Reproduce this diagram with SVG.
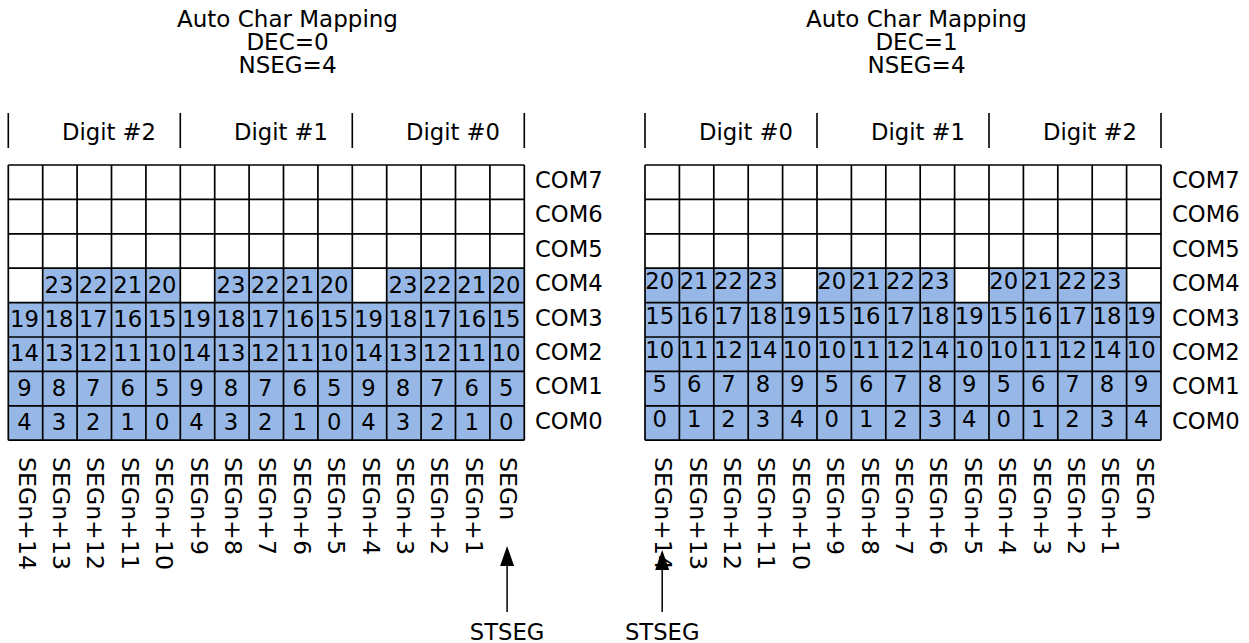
<svg xmlns="http://www.w3.org/2000/svg" width="1249" height="643" viewBox="0 0 1249 643">
<defs>
<style>
text{font-family:"DejaVu Sans","Liberation Sans",sans-serif;font-size:22.7px;fill:#000}
.c{text-anchor:middle}
.t{font-size:23px}
.v{font-size:23.6px}
.blue{fill:#97b8e6;stroke:none}
.grid{fill:none;stroke:#000;stroke-width:1.7}
.sep{stroke:#000;stroke-width:1.6}
.conn{stroke:#000;stroke-width:1.5;fill:none;marker-end:url(#ah)}
</style>
<marker id="ah" viewBox="0 0 20 14" refX="0" refY="7" markerWidth="20" markerHeight="14" markerUnits="userSpaceOnUse" orient="auto"><path d="M0,0 L20,7 L0,14 Z" fill="#000"/></marker>
</defs>
<rect width="1249" height="643" fill="#fff"/>

<g id="title-left">
<text x="287.5" y="27" class="c t">Auto Char Mapping</text>
<text x="287.5" y="50" class="c t">DEC=0</text>
<text x="287.5" y="73" class="c t">NSEG=4</text>
</g>
<g id="title-right">
<text x="916.5" y="27" class="c t">Auto Char Mapping</text>
<text x="916.5" y="50" class="c t">DEC=1</text>
<text x="916.5" y="73" class="c t">NSEG=4</text>
</g>

<g id="digits-left">
<path class="sep" d="M8.3,113V148M180.3,113V148M352.3,113V148M524.3,113V148"/>
<text x="62" y="140">Digit #2</text>
<text x="234" y="140">Digit #1</text>
<text x="406" y="140">Digit #0</text>
</g>
<g id="digits-right">
<path class="sep" d="M645,113V148M817,113V148M989,113V148M1161,113V148"/>
<text x="699" y="140">Digit #0</text>
<text x="871" y="140">Digit #1</text>
<text x="1043" y="140">Digit #2</text>
</g>

<g id="grid-left">
<path class="blue" d="M8.3,302.6H42.7V268.2H180.3V302.6H214.7V268.2H352.3V302.6H386.7V268.2H524.3V440.2H8.3Z"/>
<path class="grid" d="M8.3,165V440.2M42.7,165V440.2M77.1,165V440.2M111.5,165V440.2M145.9,165V440.2M180.3,165V440.2M214.7,165V440.2M249.1,165V440.2M283.5,165V440.2M317.9,165V440.2M352.3,165V440.2M386.7,165V440.2M421.1,165V440.2M455.5,165V440.2M489.9,165V440.2M524.3,165V440.2M8.3,165H524.3M8.3,199.4H524.3M8.3,233.8H524.3M8.3,268.2H524.3M8.3,302.6H524.3M8.3,337H524.3M8.3,371.4H524.3M8.3,405.8H524.3M8.3,440.2H524.3"/>
<g>
<text class="c" x="58.9" y="292.5">23</text><text class="c" x="93.3" y="292.5">22</text><text class="c" x="127.7" y="292.5">21</text><text class="c" x="162.1" y="292.5">20</text>
<text class="c" x="230.9" y="292.5">23</text><text class="c" x="265.3" y="292.5">22</text><text class="c" x="299.7" y="292.5">21</text><text class="c" x="334.1" y="292.5">20</text>
<text class="c" x="402.9" y="292.5">23</text><text class="c" x="437.3" y="292.5">22</text><text class="c" x="471.7" y="292.5">21</text><text class="c" x="506.1" y="292.5">20</text>

<text class="c" x="24.5" y="326.9">19</text><text class="c" x="58.9" y="326.9">18</text><text class="c" x="93.3" y="326.9">17</text><text class="c" x="127.7" y="326.9">16</text><text class="c" x="162.1" y="326.9">15</text>
<text class="c" x="196.5" y="326.9">19</text><text class="c" x="230.9" y="326.9">18</text><text class="c" x="265.3" y="326.9">17</text><text class="c" x="299.7" y="326.9">16</text><text class="c" x="334.1" y="326.9">15</text>
<text class="c" x="368.5" y="326.9">19</text><text class="c" x="402.9" y="326.9">18</text><text class="c" x="437.3" y="326.9">17</text><text class="c" x="471.7" y="326.9">16</text><text class="c" x="506.1" y="326.9">15</text>

<text class="c" x="24.5" y="361.3">14</text><text class="c" x="58.9" y="361.3">13</text><text class="c" x="93.3" y="361.3">12</text><text class="c" x="127.7" y="361.3">11</text><text class="c" x="162.1" y="361.3">10</text>
<text class="c" x="196.5" y="361.3">14</text><text class="c" x="230.9" y="361.3">13</text><text class="c" x="265.3" y="361.3">12</text><text class="c" x="299.7" y="361.3">11</text><text class="c" x="334.1" y="361.3">10</text>
<text class="c" x="368.5" y="361.3">14</text><text class="c" x="402.9" y="361.3">13</text><text class="c" x="437.3" y="361.3">12</text><text class="c" x="471.7" y="361.3">11</text><text class="c" x="506.1" y="361.3">10</text>

<text class="c" x="24.5" y="395.7">9</text><text class="c" x="58.9" y="395.7">8</text><text class="c" x="93.3" y="395.7">7</text><text class="c" x="127.7" y="395.7">6</text><text class="c" x="162.1" y="395.7">5</text>
<text class="c" x="196.5" y="395.7">9</text><text class="c" x="230.9" y="395.7">8</text><text class="c" x="265.3" y="395.7">7</text><text class="c" x="299.7" y="395.7">6</text><text class="c" x="334.1" y="395.7">5</text>
<text class="c" x="368.5" y="395.7">9</text><text class="c" x="402.9" y="395.7">8</text><text class="c" x="437.3" y="395.7">7</text><text class="c" x="471.7" y="395.7">6</text><text class="c" x="506.1" y="395.7">5</text>

<text class="c" x="24.5" y="430.1">4</text><text class="c" x="58.9" y="430.1">3</text><text class="c" x="93.3" y="430.1">2</text><text class="c" x="127.7" y="430.1">1</text><text class="c" x="162.1" y="430.1">0</text>
<text class="c" x="196.5" y="430.1">4</text><text class="c" x="230.9" y="430.1">3</text><text class="c" x="265.3" y="430.1">2</text><text class="c" x="299.7" y="430.1">1</text><text class="c" x="334.1" y="430.1">0</text>
<text class="c" x="368.5" y="430.1">4</text><text class="c" x="402.9" y="430.1">3</text><text class="c" x="437.3" y="430.1">2</text><text class="c" x="471.7" y="430.1">1</text><text class="c" x="506.1" y="430.1">0</text>
</g>
</g>

<g id="com-left">
<text x="535" y="188">COM7</text><text x="535" y="222.4">COM6</text><text x="535" y="256.8">COM5</text><text x="535" y="291.2">COM4</text>
<text x="535" y="325.6">COM3</text><text x="535" y="360">COM2</text><text x="535" y="394.4">COM1</text><text x="535" y="428.8">COM0</text>
</g>

<g id="grid-right">
<path class="blue" d="M645,268.2H782.6V302.6H817V268.2H954.6V302.6H989V268.2H1126.6V302.6H1161V440.2H645Z"/>
<path class="grid" d="M645,165V440.2M679.4,165V440.2M713.8,165V440.2M748.2,165V440.2M782.6,165V440.2M817,165V440.2M851.4,165V440.2M885.8,165V440.2M920.2,165V440.2M954.6,165V440.2M989,165V440.2M1023.4,165V440.2M1057.8,165V440.2M1092.2,165V440.2M1126.6,165V440.2M1161,165V440.2M645,165H1161M645,199.4H1161M645,233.8H1161M645,268.2H1161M645,302.6H1161M645,337H1161M645,371.4H1161M645,405.8H1161M645,440.2H1161"/>
<g>
<text class="c" x="659.7" y="289.2">20</text><text class="c" x="694.1" y="289.2">21</text><text class="c" x="728.5" y="289.2">22</text><text class="c" x="762.9" y="289.2">23</text>
<text class="c" x="831.7" y="289.2">20</text><text class="c" x="866.1" y="289.2">21</text><text class="c" x="900.5" y="289.2">22</text><text class="c" x="934.9" y="289.2">23</text>
<text class="c" x="1003.7" y="289.2">20</text><text class="c" x="1038.1" y="289.2">21</text><text class="c" x="1072.5" y="289.2">22</text><text class="c" x="1106.9" y="289.2">23</text>

<text class="c" x="659.7" y="323.6">15</text><text class="c" x="694.1" y="323.6">16</text><text class="c" x="728.5" y="323.6">17</text><text class="c" x="762.9" y="323.6">18</text><text class="c" x="797.3" y="323.6">19</text>
<text class="c" x="831.7" y="323.6">15</text><text class="c" x="866.1" y="323.6">16</text><text class="c" x="900.5" y="323.6">17</text><text class="c" x="934.9" y="323.6">18</text><text class="c" x="969.3" y="323.6">19</text>
<text class="c" x="1003.7" y="323.6">15</text><text class="c" x="1038.1" y="323.6">16</text><text class="c" x="1072.5" y="323.6">17</text><text class="c" x="1106.9" y="323.6">18</text><text class="c" x="1141.3" y="323.6">19</text>

<text class="c" x="659.7" y="358">10</text><text class="c" x="694.1" y="358">11</text><text class="c" x="728.5" y="358">12</text><text class="c" x="762.9" y="358">14</text><text class="c" x="797.3" y="358">10</text>
<text class="c" x="831.7" y="358">10</text><text class="c" x="866.1" y="358">11</text><text class="c" x="900.5" y="358">12</text><text class="c" x="934.9" y="358">14</text><text class="c" x="969.3" y="358">10</text>
<text class="c" x="1003.7" y="358">10</text><text class="c" x="1038.1" y="358">11</text><text class="c" x="1072.5" y="358">12</text><text class="c" x="1106.9" y="358">14</text><text class="c" x="1141.3" y="358">10</text>

<text class="c" x="659.7" y="392.4">5</text><text class="c" x="694.1" y="392.4">6</text><text class="c" x="728.5" y="392.4">7</text><text class="c" x="762.9" y="392.4">8</text><text class="c" x="797.3" y="392.4">9</text>
<text class="c" x="831.7" y="392.4">5</text><text class="c" x="866.1" y="392.4">6</text><text class="c" x="900.5" y="392.4">7</text><text class="c" x="934.9" y="392.4">8</text><text class="c" x="969.3" y="392.4">9</text>
<text class="c" x="1003.7" y="392.4">5</text><text class="c" x="1038.1" y="392.4">6</text><text class="c" x="1072.5" y="392.4">7</text><text class="c" x="1106.9" y="392.4">8</text><text class="c" x="1141.3" y="392.4">9</text>

<text class="c" x="659.7" y="426.8">0</text><text class="c" x="694.1" y="426.8">1</text><text class="c" x="728.5" y="426.8">2</text><text class="c" x="762.9" y="426.8">3</text><text class="c" x="797.3" y="426.8">4</text>
<text class="c" x="831.7" y="426.8">0</text><text class="c" x="866.1" y="426.8">1</text><text class="c" x="900.5" y="426.8">2</text><text class="c" x="934.9" y="426.8">3</text><text class="c" x="969.3" y="426.8">4</text>
<text class="c" x="1003.7" y="426.8">0</text><text class="c" x="1038.1" y="426.8">1</text><text class="c" x="1072.5" y="426.8">2</text><text class="c" x="1106.9" y="426.8">3</text><text class="c" x="1141.3" y="426.8">4</text>
</g>
</g>

<g id="com-right">
<text x="1172" y="188">COM7</text><text x="1172" y="222.4">COM6</text><text x="1172" y="256.8">COM5</text><text x="1172" y="291.2">COM4</text>
<text x="1172" y="325.6">COM3</text><text x="1172" y="360">COM2</text><text x="1172" y="394.4">COM1</text><text x="1172" y="428.8">COM0</text>
</g>

<g id="seg-left" class="v">
<text class="v" transform="translate(18.5,457) rotate(90)">SEGn+14</text>
<text class="v" transform="translate(52.9,457) rotate(90)">SEGn+13</text>
<text class="v" transform="translate(87.3,457) rotate(90)">SEGn+12</text>
<text class="v" transform="translate(121.7,457) rotate(90)">SEGn+11</text>
<text class="v" transform="translate(156.1,457) rotate(90)">SEGn+10</text>
<text class="v" transform="translate(190.5,457) rotate(90)">SEGn+9</text>
<text class="v" transform="translate(224.9,457) rotate(90)">SEGn+8</text>
<text class="v" transform="translate(259.3,457) rotate(90)">SEGn+7</text>
<text class="v" transform="translate(293.7,457) rotate(90)">SEGn+6</text>
<text class="v" transform="translate(328.1,457) rotate(90)">SEGn+5</text>
<text class="v" transform="translate(362.5,457) rotate(90)">SEGn+4</text>
<text class="v" transform="translate(396.9,457) rotate(90)">SEGn+3</text>
<text class="v" transform="translate(431.3,457) rotate(90)">SEGn+2</text>
<text class="v" transform="translate(465.7,457) rotate(90)">SEGn+1</text>
<text class="v" transform="translate(500.1,457) rotate(90)">SEGn</text>
</g>
<g id="seg-right">
<text class="v" transform="translate(655.2,457) rotate(90)">SEGn+14</text>
<text class="v" transform="translate(689.6,457) rotate(90)">SEGn+13</text>
<text class="v" transform="translate(724,457) rotate(90)">SEGn+12</text>
<text class="v" transform="translate(758.4,457) rotate(90)">SEGn+11</text>
<text class="v" transform="translate(792.8,457) rotate(90)">SEGn+10</text>
<text class="v" transform="translate(827.2,457) rotate(90)">SEGn+9</text>
<text class="v" transform="translate(861.6,457) rotate(90)">SEGn+8</text>
<text class="v" transform="translate(896,457) rotate(90)">SEGn+7</text>
<text class="v" transform="translate(930.4,457) rotate(90)">SEGn+6</text>
<text class="v" transform="translate(964.8,457) rotate(90)">SEGn+5</text>
<text class="v" transform="translate(999.2,457) rotate(90)">SEGn+4</text>
<text class="v" transform="translate(1033.6,457) rotate(90)">SEGn+3</text>
<text class="v" transform="translate(1068,457) rotate(90)">SEGn+2</text>
<text class="v" transform="translate(1102.4,457) rotate(90)">SEGn+1</text>
<text class="v" transform="translate(1136.8,457) rotate(90)">SEGn</text>
</g>

<g id="stseg-left">
<text class="c" x="507.1" y="640">STSEG</text>
</g>
<g id="stseg-right">
<text class="c" x="662.2" y="640">STSEG</text>
</g>

<g id="connectors">
<path class="conn" d="M507.1,612V566"/>
<path class="conn" d="M662.2,612V570"/>
</g>
</svg>
